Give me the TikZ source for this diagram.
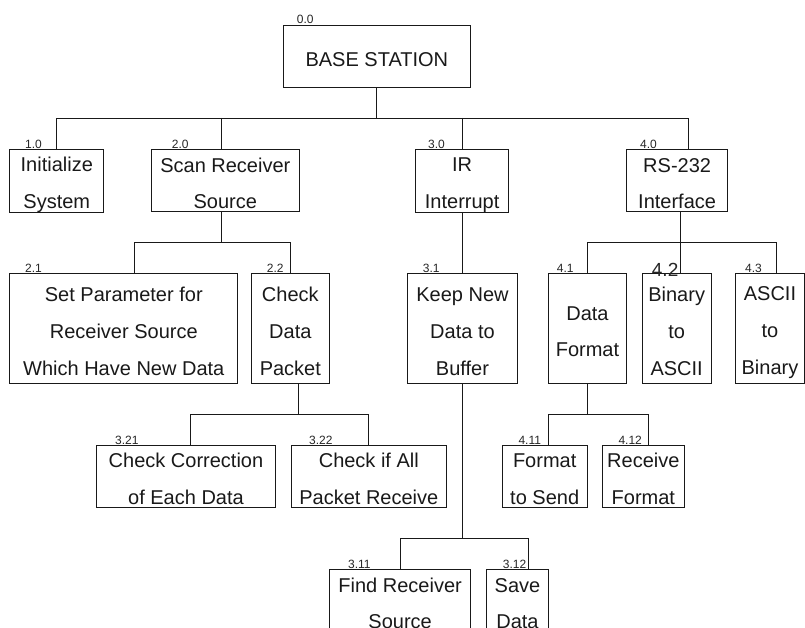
\documentclass[tikz,border=0pt]{standalone}
\usepackage{fontspec}
\setmainfont{Liberation Sans}
% strut used at the first and last line of each box: height 22pt, depth 2pt
\newcommand{\bst}{\rule[-2pt]{0pt}{24pt}}
\begin{document}
\begin{tikzpicture}[x=1pt,y=-1pt,
  blk/.style={draw=black!90, line width=0.95pt, inner sep=0pt, align=center,
    anchor=north west, text=black!90, font=\fontsize{20}{36.7}\selectfont},
  num/.style={inner sep=0pt, anchor=base west, text=black!85,
    font=\fontsize{12}{14}\selectfont},
  wire/.style={line width=0.95pt, draw=black!90}]
\useasboundingbox (0,0) rectangle (805,628);
\clip (0,0) rectangle (805,628);

% ---- root
\node[blk, minimum width=187.3pt, minimum height=62pt] (root) at (282.7,25) {\bst BASE STATION\bst};

% ---- level 1
\node[blk, minimum width=94pt,    minimum height=61.7pt] (a1) at (9.3,149.3)  {\bst Initialize\\System\bst};
\node[blk, minimum width=148.3pt, minimum height=61.7pt] (a2) at (150.7,149.3) {\bst Scan Receiver\\Source\bst};
\node[blk, minimum width=93.3pt,  minimum height=61.7pt] (a3) at (415,149.3)  {\bst IR\\Interrupt\bst};
\node[blk, minimum width=101.3pt, minimum height=61.7pt] (a4) at (626,149.3)  {\bst RS-232\\Interface\bst};

% ---- level 2
\node[blk, minimum width=228pt,   minimum height=109.7pt] (b21) at (9.3,273.3)   {\bst Set Parameter for\\Receiver Source\\Which Have New Data\bst};
\node[blk, minimum width=78.3pt,  minimum height=109.7pt] (b22) at (250.7,273.3) {\bst Check\\Data\\Packet\bst};
\node[blk, minimum width=109.4pt, minimum height=109.7pt] (b31) at (407.3,273.3) {\bst Keep New\\Data to\\Buffer\bst};
\node[blk, minimum width=77.4pt,  minimum height=109.7pt] (b41) at (548.3,273.3) {\bst Data\\Format\bst};
\node[blk, minimum width=69pt,    minimum height=109.7pt] (b42) at (641.7,273.3) {\bst Binary\\to\\ASCII\bst};
\node[blk, minimum width=69pt,    minimum height=109.7pt] (b43) at (735,273.3)   {\bst ASCII\\to\\Binary\bst};

% ---- level 3
\node[blk, minimum width=179pt,   minimum height=61.7pt] (c321) at (96,445)    {\bst Check Correction\\of Each Data\bst};
\node[blk, minimum width=155.3pt, minimum height=61.7pt] (c322) at (290.7,445) {\bst Check if All\\Packet Receive\bst};
\node[blk, minimum width=85pt,    minimum height=61.7pt] (c411) at (501.7,445) {\bst Format\\to Send\bst};
\node[blk, minimum width=82.3pt,  minimum height=61.7pt] (c412) at (601.7,445) {\bst Receive\\Format\bst};

% ---- level 4 (runs on past the lower edge)
\node[blk, minimum width=140.7pt, minimum height=61.7pt] (d311) at (329.3,569.3) {\bst Find Receiver\\Source\bst};
\node[blk, minimum width=62.6pt,  minimum height=61.7pt] (d312) at (485.7,569.3) {\bst Save\\Data\bst};

% ---- reference numbers
\node[num] (l00)  at (296.7,24)    {0.0};
\node[num] (l10)  at (25,148.3)    {1.0};
\node[num] (l20)  at (171.7,148.3) {2.0};
\node[num] (l30)  at (428,148.3)   {3.0};
\node[num] (l40)  at (640,148.3)   {4.0};
\node[num] (l21)  at (25,272.3)    {2.1};
\node[num] (l22)  at (266.7,272.3) {2.2};
\node[num] (l31)  at (422.7,272.3) {3.1};
\node[num] (l41)  at (556.7,272.3) {4.1};
\node[num, font=\fontsize{19}{22}\selectfont] (l42) at (651.7,276.7) {4.2};
\node[num] (l43)  at (745,272.3)   {4.3};
\node[num] (l321) at (115,444)     {3.21};
\node[num] (l322) at (309,444)     {3.22};
\node[num] (l411) at (518.3,444)   {4.11};
\node[num] (l412) at (618.3,444)   {4.12};
\node[num] (l311) at (348,568.3)   {3.11};
\node[num] (l312) at (502.7,568.3) {3.12};

% ---- bus levels and stem points
\coordinate (bus1) at (0,118);
\coordinate (bus2) at (0,242.7);
\coordinate (bus3) at (0,414);
\coordinate (bus4) at (0,538.3);
\coordinate (a2t) at ([xshift=-3.85pt]a2.north);
\coordinate (a2b) at ([xshift=-3.85pt]a2.south);
\coordinate (a4t) at ([xshift=11.65pt]a4.north);
\coordinate (a4b) at ([xshift=3.35pt]a4.south);
\coordinate (b21t) at ([xshift=11pt]b21.north);
\coordinate (b22b) at ([xshift=8.45pt]b22.south);
\coordinate (b43t) at ([xshift=6.2pt]b43.north);
\coordinate (c321t) at ([xshift=4.5pt]c321.north);
\coordinate (c411t) at ([xshift=4.1pt]c411.north);
\coordinate (c412t) at ([xshift=5.45pt]c412.north);
\coordinate (d312t) at ([xshift=11.3pt]d312.north);

% root to level 1
\draw[wire] (root.south) -- (root.south |- bus1);
\draw[wire] (a1.north) -- (a1.north |- bus1) -- (a4t |- bus1) -- (a4t);
\draw[wire] (a2t |- bus1) -- (a2t);
\draw[wire] (a3.north |- bus1) -- (a3.north);

% under 2.0
\draw[wire] (a2b) -- (a2b |- bus2);
\draw[wire] (b21t) -- (b21t |- bus2) -- (b22.north |- bus2) -- (b22.north);

% under 3.0
\draw[wire] (a3.south) -- (a3.south |- b31.north);

% under 4.0 (the stem runs straight into 4.2)
\draw[wire] (a4b) -- (a4b |- b42.north);
\draw[wire] (b41.north) -- (b41.north |- bus2) -- (b43t |- bus2) -- (b43t);

% under 2.2
\draw[wire] (b22b) -- (b22b |- bus3);
\draw[wire] (c321t) -- (c321t |- bus3) -- (c322.north |- bus3) -- (c322.north);

% under 4.1
\draw[wire] (b41.south) -- (b41.south |- bus3);
\draw[wire] (c411t) -- (c411t |- bus3) -- (c412t |- bus3) -- (c412t);

% under 3.1
\draw[wire] (b31.south) -- (b31.south |- bus4);
\draw[wire] (d311.north) -- (d311.north |- bus4) -- (d312t |- bus4) -- (d312t);
\end{tikzpicture}
\end{document}
